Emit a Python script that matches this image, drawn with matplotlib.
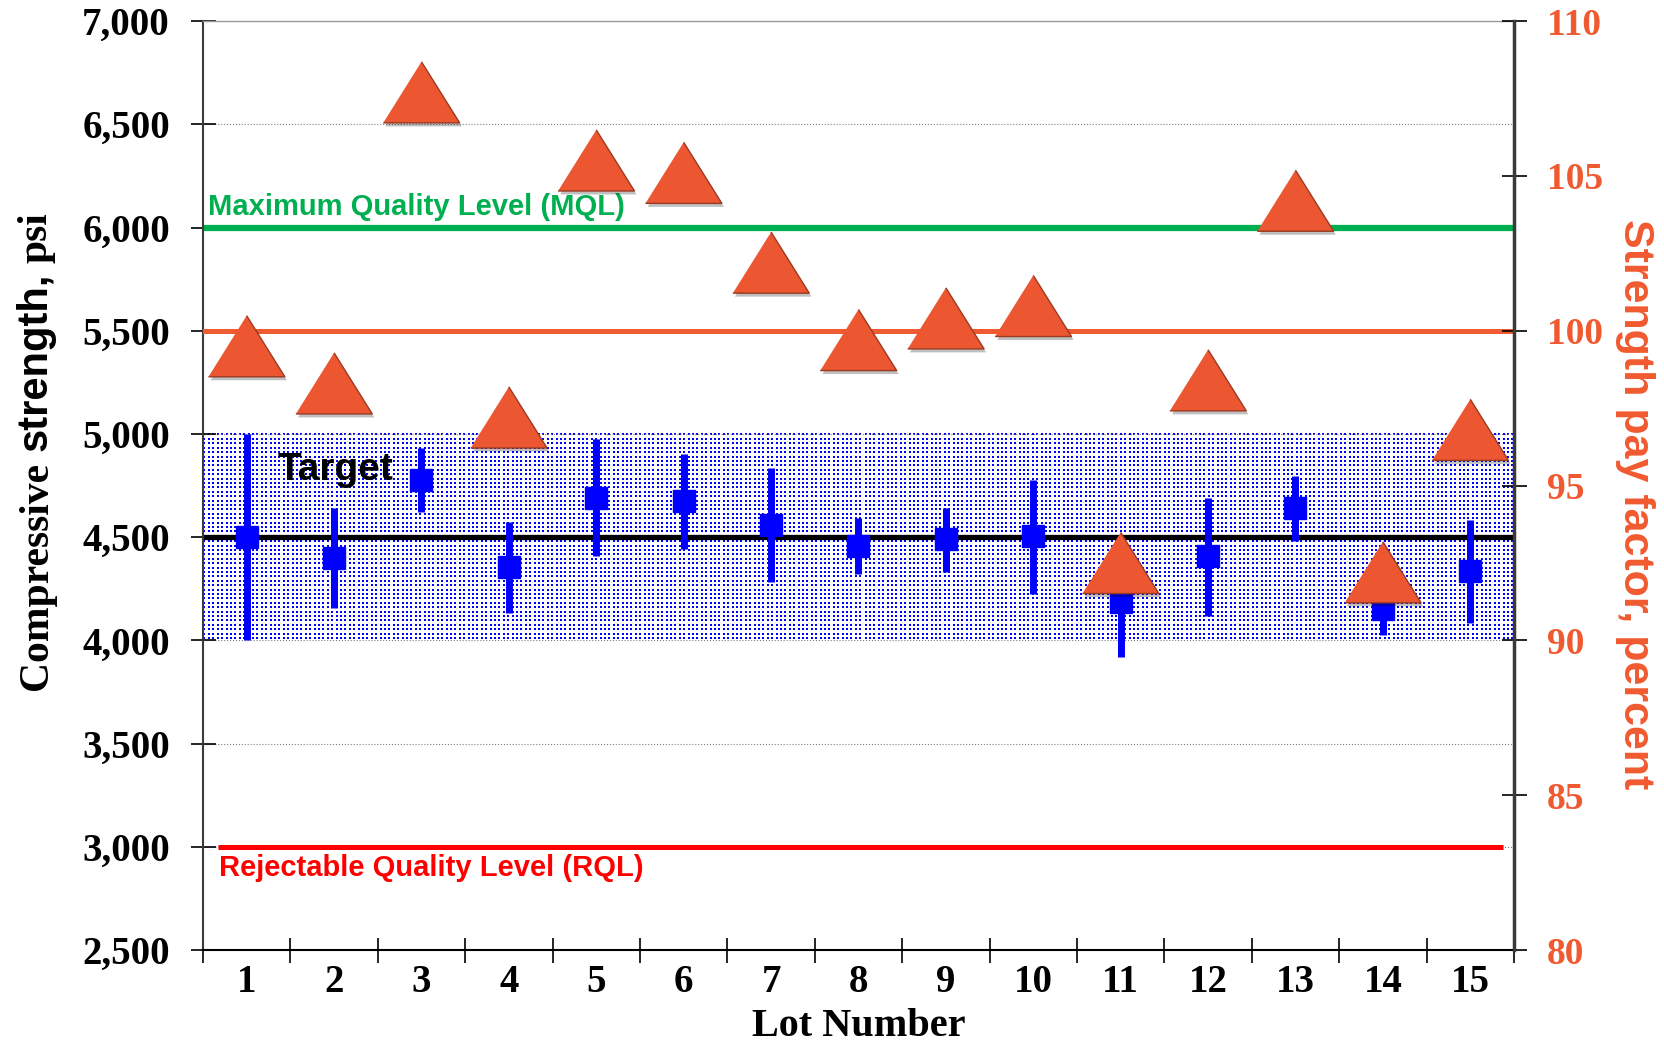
import matplotlib.pyplot as plt
import matplotlib.patheffects as pe
import numpy as np
from matplotlib import font_manager
from matplotlib.ticker import FixedLocator, FuncFormatter

lots = np.arange(1, 16)
mean_psi = [4500, 4400, 4778, 4357, 4691, 4675, 4557, 4459, 4490, 4506, 4187, 4408, 4640, 4151, 4336]
low_psi = [4000, 4156, 4624, 4135, 4408, 4444, 4285, 4320, 4331, 4223, 3920, 4120, 4480, 4027, 4084]
high_psi = [5000, 4640, 4933, 4572, 4974, 4902, 4835, 4593, 4640, 4778, 4300, 4691, 4794, 4300, 4583]
pay_factor = [99.5, 98.3, 107.7, 97.2, 105.5, 105.1, 102.2, 99.7, 100.4, 100.8, 92.5, 98.4, 104.2, 92.2, 96.8]

psi_ticks = np.arange(2500, 7001, 500)
pay_ticks = np.arange(80, 111, 5)
target_low, target_high, target_psi = 4000, 5000, 4500
mql_psi, rql_psi, full_pay = 6000, 3000, 100

BLUE = "#0000FF"
ORANGE = "#F05A30"
GREEN = "#00B050"

plt.rcParams["font.family"] = "Liberation Serif"
plt.rcParams["font.weight"] = "bold"

installed = {f.name for f in font_manager.fontManager.ttflist}
narrow = "Liberation Sans Narrow" if "Liberation Sans Narrow" in installed else None

fig = plt.figure(figsize=(16.65, 10.44), dpi=100)
ax = fig.add_axes([0.1219, 0.0900, 0.7874, 0.8898])

# dotted target zone, built at roughly screen resolution
rows, cols = 206, 1311
ii = np.arange(rows)[:, None] % 4.4 < 2
jj = np.arange(cols)[None, :] % 4.4 < 2
dots = np.ones((rows, cols, 3))
dots[ii & jj] = (0, 0, 1)
ax.imshow(dots, extent=(0.5, 15.5, target_low, target_high), aspect="auto",
          interpolation="nearest", zorder=0.5)

ax.set_xlim(0.5, 15.5)
ax.set_ylim(2500, 7000)
ax.set_axisbelow(True)
ax.yaxis.grid(True, color="#808080", ls=":", lw=0.8)

ax.axhline(mql_psi, color=GREEN, lw=4.5, zorder=2)
ax.axhline(target_psi, color="black", lw=3.8, zorder=2)
ax.hlines(rql_psi, 0.67, 15.37, color="#FF0000", lw=3.6, zorder=2)

ax.vlines(lots, low_psi, high_psi, color=BLUE, lw=5, zorder=3)
ax.plot(lots, mean_psi, ls="none", marker="s", ms=16.5, color=BLUE, zorder=3)

sans = dict(family="Liberation Sans", weight="bold")
ax.text(0.557, 6060, "Maximum Quality Level (MQL)", color=GREEN, fontsize=21,
        va="baseline", ha="left", zorder=4, **sans)
ax.text(0.683, 2858, "Rejectable Quality Level (RQL)", color="#FF0000", fontsize=21,
        va="baseline", ha="left", zorder=4, **sans)
ax.text(1.358, 4777, "Target", color="black", fontsize=28,
        va="baseline", ha="left", zorder=4, **sans)

# axis cosmetics
ax.yaxis.set_major_locator(FixedLocator(psi_ticks))
ax.yaxis.set_major_formatter(FuncFormatter(lambda v, p: f"{v:,.0f}"))
ax.tick_params(axis="y", direction="inout", length=18, width=1.2, labelsize=28, pad=14.8)
ax.set_xticks(lots)
ax.set_xticks(np.arange(0.5, 15.6, 1), minor=True)
ax.tick_params(axis="x", which="major", length=0, labelsize=28, pad=10)
ax.tick_params(axis="x", which="minor", direction="inout", length=18, width=1.2)

ax.spines["left"].set_color("#3a3a3a")
ax.spines["left"].set_linewidth(1.5)
ax.spines["bottom"].set_color("black")
ax.spines["bottom"].set_linewidth(1.5)
ax.spines["top"].set_color("#999999")
ax.spines["top"].set_linewidth(1)
ax.spines["right"].set_visible(False)

ax.set_xlabel("Lot Number", fontsize=29, fontweight="bold")
ax.xaxis.set_label_coords(0.5, -0.0625)

# pay factor on the right axis
ax2 = ax.twinx()
ax2.set_ylim(80, 110)
ax2.yaxis.set_major_locator(FixedLocator(pay_ticks))
ax2.tick_params(axis="y", direction="inout", length=18, width=1.2, labelsize=27,
                pad=14.8, labelcolor=ORANGE)
for side in ("left", "top", "bottom"):
    ax2.spines[side].set_visible(False)
ax2.spines["right"].set_color("#3a3a3a")
ax2.spines["right"].set_linewidth(2.5)

ax2.axhline(full_pay, color=ORANGE, lw=3.6, zorder=1)
tri = [(-1, -0.8), (1, -0.8), (0, 0.8)]
ax2.plot(lots, pay_factor, ls="none", marker=tri, ms=55, mfc="#EC5631", mec="#9C3A22",
         mew=1, zorder=3,
         path_effects=[pe.withSimplePatchShadow(offset=(1.5, -2.5), shadow_rgbFace="black",
                                                alpha=0.25)])

if narrow:
    fig.text(1635 / 1665, 1 - 504 / 1044, "Strength pay factor, percent", rotation=270,
             ha="center", va="center", color=ORANGE, fontsize=37, family=narrow, weight="bold")
else:
    fig.text(1635 / 1665, 1 - 504 / 1044, "Strength pay factor, percent", rotation=270,
             ha="center", va="center", color=ORANGE, fontsize=31, family="Liberation Sans",
             weight="bold")

# left label mixes a serif and a sans face
renderer = fig.canvas.get_renderer()
pieces = [("Compressive", "Liberation Serif"), ("strength,", "Liberation Sans"),
          ("psi", "Liberation Serif")]
fs = 30
gap = 0.25 * fs * 100 / 72
x_base = 47
y_px = 1044 - 690
for word, fam in pieces:
    t = fig.text(x_base / 1665, y_px / 1044, word, rotation=90, rotation_mode="anchor",
                 ha="left", va="baseline", fontsize=fs, family=fam, weight="bold")
    bb = t.get_window_extent(renderer)
    y_px = bb.y1 + gap

fig.savefig("out.png", dpi=100)
